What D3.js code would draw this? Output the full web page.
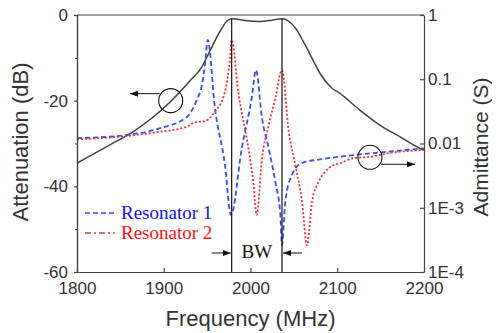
<!DOCTYPE html>
<html>
<head>
<meta charset="utf-8">
<script src="https://cdn.jsdelivr.net/npm/d3@7/dist/d3.min.js"></script>
<style>
  body { margin: 0; background: #fff; }
  svg { display: block; }
  .axis text { font-family: "Liberation Sans", Arial, sans-serif; font-size: 17px; fill: #333; }
  .axis path, .axis line { stroke: #444; stroke-width: 1.2; }
  .title { font-family: "Liberation Sans", Arial, sans-serif; font-size: 22px; fill: #333; }
  .serif { font-family: "Liberation Serif", "Times New Roman", serif; font-size: 19px; }
</style>
</head>
<body>
<div id="chart"></div>
<script>
// Frequency axis (MHz) and attenuation curve (dB, left axis)
const attFreq = [1800, 1838, 1865, 1908, 1931, 1944, 1951, 1967, 1974, 1980, 1994, 2010, 2025, 2036,
                 2052, 2063, 2075, 2080, 2094, 2103, 2126, 2149, 2172, 2195, 2200];
const attDb = [-34.6, -30.3, -27.2, -20.2, -15.2, -12.1, -9.3, -3.1, -1.2, -0.9, -1.3, -1.5, -1.2, -0.9,
               -3.1, -7.0, -11.7, -13.6, -17.1, -18.3, -22.2, -25.7, -28.4, -31.1, -31.5];

// Resonator 1 admittance (S, right axis)
const res1Freq = [1800, 1858, 1896, 1927, 1938, 1944, 1947.5, 1950.7, 1959, 1970.6, 1977.5, 1990,
                  2001.4, 2006.3, 2013.3, 2021, 2028.6, 2034.4, 2036.3, 2040.1, 2047.8, 2059.4,
                  2080, 2118.5, 2157, 2200];
const res1Adm = [0.0121, 0.0136, 0.0173, 0.0261, 0.0475, 0.0814, 0.167, 0.41, 0.0357, 0.00463, 0.00077, 0.0085,
                 0.0511, 0.139, 0.0247, 0.0084, 0.00254, 0.00077, 0.00026, 0.00124, 0.00324, 0.005,
                 0.00564, 0.0066, 0.00745, 0.0084];

// Resonator 2 admittance (S, right axis)
const res2Freq = [1800, 1858, 1896, 1927, 1936, 1947.5, 1959, 1970.6, 1976.4, 1978.3, 1985.9, 1997.5,
                  2003.2, 2007.1, 2013.3, 2021, 2028.6, 2036.3, 2044.1, 2051.6, 2059.4, 2065.1, 2070.9,
                  2078.6, 2086.2, 2094, 2103.2, 2118.5, 2137.7, 2157, 2200];
const res2Adm = [0.0116, 0.0131, 0.0153, 0.0183, 0.0214, 0.0224, 0.0313, 0.064, 0.214, 0.41, 0.064, 0.0085,
                 0.00254, 0.00077, 0.0059, 0.0194, 0.0505, 0.139, 0.0153, 0.00463, 0.00124, 0.00026, 0.00124,
                 0.00254, 0.00364, 0.00447, 0.00492, 0.0059, 0.0062, 0.0070, 0.0079];

// Band edges and annotation anchors
const bwEdges = [1978.3, 2036.3];
const bwTopDb = -0.9;
const leftMarker = { f: 1908, db: -20 };
const rightMarker = { f: 2137.7, adm: 0.0061 };

// Ticks
const xTicks = [1800, 1900, 2000, 2100, 2200];
const dbTicks = [0, -20, -40, -60];
const dbMinorTicks = [-10, -30, -50];
const admTicks = [1, 0.1, 0.01, 1e-3, 1e-4];
const admTickLabels = ['1', '0.1', '0.01', '1E-3', '1E-4'];

const width = 496;
const height = 333;
const marginLeft = 77;
const marginRight = 72;
const marginTop = 15;
const marginBottom = 61;

const svg = d3.select('#chart')
              .append('svg')
              .attr('width', width)
              .attr('height', height);

const x = d3.scaleLinear()
            .domain([1800, 2200])
            .range([marginLeft, width - marginRight]);
const yDb = d3.scaleLinear()
              .domain([-60, 0])
              .range([height - marginBottom, marginTop]);
const yAdm = d3.scaleLog()
               .domain([1e-4, 1])
               .range([height - marginBottom, marginTop]);

const defs = svg.append('defs');
defs.append('clipPath')
    .attr('id', 'plot-clip')
    .append('rect')
    .attr('x', marginLeft)
    .attr('y', marginTop)
    .attr('width', width - marginLeft - marginRight)
    .attr('height', height - marginTop - marginBottom);
defs.append('marker')
    .attr('id', 'arrow')
    .attr('viewBox', '0 0 8 6')
    .attr('refX', 8)
    .attr('refY', 3)
    .attr('markerWidth', 8)
    .attr('markerHeight', 6)
    .attr('markerUnits', 'userSpaceOnUse')
    .attr('orient', 'auto')
    .append('path')
    .attr('d', 'M0,0L8,3L0,6Z')
    .attr('fill', '#111');

// Curves
const plot = svg.append('g').attr('clip-path', 'url(#plot-clip)');

const attLine = d3.line()
                  .x((d, i) => x(attFreq[i]))
                  .y((d) => yDb(d))
                  .curve(d3.curveMonotoneX);
plot.append('path')
    .attr('d', attLine(attDb))
    .attr('fill', 'none')
    .attr('stroke', '#444')
    .attr('stroke-width', 1.5);

const res1Line = d3.line()
                   .x((d, i) => x(res1Freq[i]))
                   .y((d) => yAdm(d))
                   .curve(d3.curveMonotoneX);
plot.append('path')
    .attr('d', res1Line(res1Adm))
    .attr('fill', 'none')
    .attr('stroke', '#3350f0')
    .attr('stroke-width', 1.8)
    .attr('stroke-dasharray', '5,3');

const res2Line = d3.line()
                   .x((d, i) => x(res2Freq[i]))
                   .y((d) => yAdm(d))
                   .curve(d3.curveMonotoneX);
plot.append('path')
    .attr('d', res2Line(res2Adm))
    .attr('fill', 'none')
    .attr('stroke', '#f03030')
    .attr('stroke-width', 1.8)
    .attr('stroke-dasharray', '2,2');

// BW lines
svg.selectAll('.bw-line')
   .data(bwEdges)
   .enter()
   .append('line')
   .attr('class', 'bw-line')
   .attr('x1', (d) => x(d))
   .attr('x2', (d) => x(d))
   .attr('y1', yDb(bwTopDb))
   .attr('y2', yDb(-60))
   .attr('stroke', '#111')
   .attr('stroke-width', 1.2);

const bwY = 253;
svg.append('line')
   .attr('x1', x(bwEdges[0]) - 20).attr('x2', x(bwEdges[0]) - 1)
   .attr('y1', bwY).attr('y2', bwY)
   .attr('stroke', '#111').attr('marker-end', 'url(#arrow)');
svg.append('line')
   .attr('x1', x(bwEdges[1]) + 20).attr('x2', x(bwEdges[1]) + 1)
   .attr('y1', bwY).attr('y2', bwY)
   .attr('stroke', '#111').attr('marker-end', 'url(#arrow)');
svg.append('text')
   .attr('class', 'serif')
   .attr('x', (x(bwEdges[0]) + x(bwEdges[1])) / 2)
   .attr('y', 258)
   .attr('text-anchor', 'middle')
   .attr('fill', '#111')
   .text('BW');

// Circles with arrows pointing at the axes
const lcx = x(leftMarker.f);
const lcy = yDb(leftMarker.db);
svg.append('circle')
   .attr('cx', lcx).attr('cy', lcy).attr('r', 12)
   .attr('fill', 'none').attr('stroke', '#111').attr('stroke-width', 1.1);
svg.append('line')
   .attr('x1', lcx - 11).attr('x2', 130)
   .attr('y1', lcy - 7).attr('y2', lcy - 7)
   .attr('stroke', '#111').attr('marker-end', 'url(#arrow)');

const rcx = x(rightMarker.f);
const rcy = yAdm(rightMarker.adm);
svg.append('circle')
   .attr('cx', rcx).attr('cy', rcy).attr('r', 12)
   .attr('fill', 'none').attr('stroke', '#111').attr('stroke-width', 1.1);
svg.append('line')
   .attr('x1', rcx + 11).attr('x2', 415)
   .attr('y1', rcy + 7).attr('y2', rcy + 7)
   .attr('stroke', '#111').attr('marker-end', 'url(#arrow)');

// Axes
svg.append('g')
   .attr('class', 'axis')
   .attr('transform', `translate(${marginLeft}, 0)`)
   .call(d3.axisLeft(yDb)
           .tickValues(dbTicks)
           .tickSize(3)
           .tickPadding(6)
           .tickFormat((d) => String(d)));
svg.append('g')
   .attr('class', 'axis')
   .attr('transform', `translate(${marginLeft}, 0)`)
   .call(d3.axisLeft(yDb)
           .tickValues(dbMinorTicks)
           .tickSize(2)
           .tickFormat(() => ''));

svg.append('g')
   .attr('class', 'axis')
   .attr('transform', `translate(0, ${height - marginBottom})`)
   .call(d3.axisBottom(x)
           .tickValues(xTicks)
           .tickSizeInner(-4)
           .tickSizeOuter(0)
           .tickPadding(10)
           .tickFormat((d) => String(d)));

const rightAxis = svg.append('g')
   .attr('class', 'axis')
   .attr('transform', `translate(${width - marginRight}, 0)`)
   .call(d3.axisRight(yAdm)
           .tickValues(admTicks)
           .tickSizeInner(-4)
           .tickSizeOuter(0)
           .tickPadding(4)
           .tickFormat((d, i) => admTickLabels[i]));
rightAxis.select('.domain').attr('stroke', '#777');

svg.append('path')
   .attr('d', `M${marginLeft},${marginTop}H${width - marginRight}`)
   .attr('stroke', '#444')
   .attr('stroke-width', 1.2);

// Axis titles
svg.append('text')
   .attr('class', 'title')
   .attr('x', (marginLeft + width - marginRight) / 2)
   .attr('y', 326)
   .attr('text-anchor', 'middle')
   .text('Frequency (MHz)');
svg.append('text')
   .attr('class', 'title')
   .attr('transform', 'translate(28, 142) rotate(-90)')
   .attr('text-anchor', 'middle')
   .text('Attenuation (dB)');
svg.append('text')
   .attr('class', 'title')
   .style('font-size', '21px')
   .attr('transform', 'translate(488, 147) rotate(-90)')
   .attr('text-anchor', 'middle')
   .text('Admittance (S)');

// Legend
const legend = [
  { name: 'Resonator 1', color: '#3350f0', text: '#1010ff', dash: '5,3', y: 213 },
  { name: 'Resonator 2', color: '#f03030', text: '#ff1010', dash: '6,3,2,3', y: 233 }
];
const lg = svg.append('g').selectAll('g')
              .data(legend)
              .enter()
              .append('g');
lg.append('line')
  .attr('x1', 85).attr('x2', 115)
  .attr('y1', (d) => d.y).attr('y2', (d) => d.y)
  .attr('stroke', (d) => d.color)
  .attr('stroke-width', 1.5)
  .attr('stroke-dasharray', (d) => d.dash);
lg.append('text')
  .attr('class', 'serif')
  .attr('x', 121)
  .attr('y', (d) => d.y + 6)
  .attr('fill', (d) => d.text)
  .text((d) => d.name);
</script>
</body>
</html>
